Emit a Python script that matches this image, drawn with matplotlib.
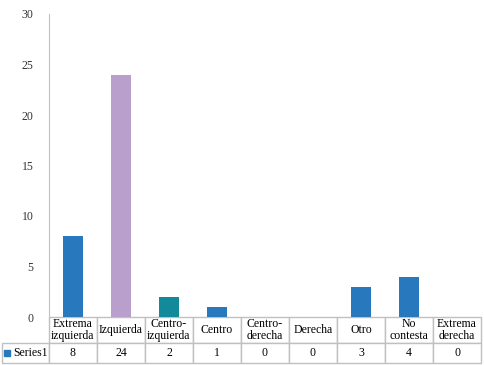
import matplotlib
matplotlib.use('Agg')
import matplotlib.pyplot as plt
from matplotlib.table import Table
from matplotlib.patches import Rectangle

# data
categories = ['Extrema\nizquierda', 'Izquierda', 'Centro-\nizquierda', 'Centro',
              'Centro-\nderecha', 'Derecha', 'Otro', 'No\ncontesta', 'Extrema\nderecha']
values = [8, 24, 2, 1, 0, 0, 3, 4, 0]
series_name = 'Series1'
yticks = [0, 5, 10, 15, 20, 25, 30]

blue = '#2878be'
purple = '#b9a0cc'
teal = '#138a99'
bar_colors = [blue, purple, teal] + [blue] * 6
grid_col = '#c0c0c0'

plt.rcParams['font.family'] = ['Liberation Serif', 'DejaVu Serif']

fig = plt.figure(figsize=(4.84, 3.65), dpi=100)
ax = fig.add_axes([49 / 484, 48 / 365, 432 / 484, 303 / 365])

x = range(len(values))
ax.bar(x, values, width=0.4, color=bar_colors)
ax.set_xlim(-0.5, len(values) - 0.5)
ax.set_ylim(0, 30)
ax.set_yticks(yticks)
ax.tick_params(axis='y', length=0, pad=11, labelsize=8.5, labelcolor='#333333')
ax.set_xticks([])
for s in ['top', 'right', 'bottom']:
    ax.spines[s].set_visible(False)
ax.spines['left'].set_color(grid_col)

# data table under the plot
tab = Table(ax, bbox=[-47 / 432, -46 / 303, 479 / 432, 46 / 303])
hh, rh = 25, 19
lw = 47
cw = 48
fs = 8.5
for j, cat in enumerate(categories):
    c = tab.add_cell(0, j + 1, cw, hh, text=cat, loc='center')
    c.set_edgecolor(grid_col)
    c.get_text().set_fontsize(fs)
    c.get_text().set_linespacing(1.0)
    c = tab.add_cell(1, j + 1, cw, rh, text=str(values[j]), loc='center')
    c.set_edgecolor(grid_col)
    c.get_text().set_fontsize(fs)
c = tab.add_cell(0, 0, lw, hh, text='', loc='center')
c.set_edgecolor('none')
c = tab.add_cell(1, 0, lw, rh, text=series_name, loc='right')
c.set_edgecolor(grid_col)
c.get_text().set_fontsize(fs)
c.PAD = 0.02
tab.auto_set_font_size(False)
ax.add_table(tab)

# legend key in row label cell
fig.patches.append(Rectangle((4 / 484, (365 - 356) / 365), 6 / 484, 6 / 365,
                             transform=fig.transFigure, color=blue))

plt.savefig('out.png', dpi=100)
